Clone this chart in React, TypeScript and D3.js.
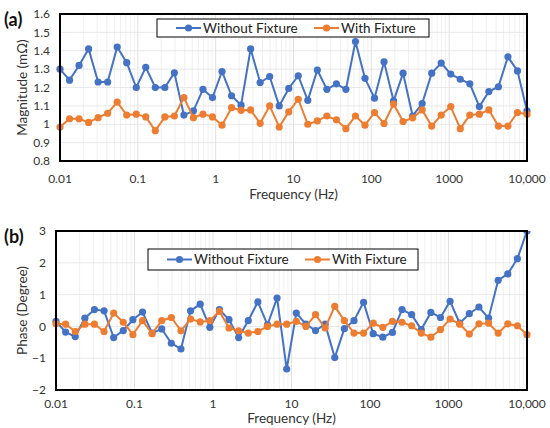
import * as d3 from 'd3';

// sweep frequencies (Hz), 50 points log spaced
const freqs = [
  0.01, 0.01326, 0.01758, 0.02331, 0.03089, 0.04095, 0.05429, 0.07197, 0.09541, 0.1265,
  0.1677, 0.2223, 0.2947, 0.3907, 0.5179, 0.6866, 0.9103, 1.207, 1.6, 2.121,
  2.812, 3.728, 4.942, 6.551, 8.685, 11.51, 15.26, 20.24, 26.83, 35.57,
  47.15, 62.51, 82.87, 109.8, 145.6, 193.1, 255.9, 339.3, 449.8, 596.4,
  790.6, 1048, 1389, 1842, 2442, 3237, 4292, 5690, 7543, 10000,
];

const magWithout = [
  1.30, 1.24, 1.32, 1.41, 1.23, 1.23, 1.42, 1.335, 1.20, 1.31,
  1.20, 1.20, 1.28, 1.05, 1.073, 1.19, 1.145, 1.287, 1.155, 1.104,
  1.41, 1.227, 1.26, 1.10, 1.195, 1.264, 1.13, 1.295, 1.19, 1.22,
  1.19, 1.45, 1.25, 1.142, 1.34, 1.127, 1.278, 1.045, 1.113, 1.278,
  1.333, 1.273, 1.245, 1.22, 1.096, 1.178, 1.204, 1.367, 1.29, 1.073,
];

const magWith = [
  0.985, 1.03, 1.03, 1.01, 1.036, 1.06, 1.12, 1.05, 1.055, 1.04,
  0.965, 1.04, 1.045, 1.145, 1.036, 1.055, 1.04, 0.995, 1.09, 1.076,
  1.078, 1.005, 1.10, 0.985, 1.067, 1.136, 1.0, 1.018, 1.045, 1.024,
  0.976, 1.045, 0.995, 1.064, 1.004, 1.11, 1.015, 1.035, 1.078, 0.99,
  1.05, 1.096, 0.976, 1.05, 1.055, 1.078, 0.99, 0.99, 1.064, 1.055,
];

const phaseWithout = [
  0.16, -0.18, -0.32, 0.26, 0.53, 0.49, -0.35, -0.13, 0.21, 0.45,
  -0.21, -0.08, -0.53, -0.71, 0.49, 0.7, -0.03, 0.53, 0.21, -0.35,
  0.18, 0.77, 0.05, 0.89, -1.34, 0.42, 0.07, -0.13, 0.07, -0.98,
  -0.07, 0.18, 0.76, -0.23, -0.34, -0.19, 0.53, 0.37, -0.1, 0.44,
  0.28, 0.79, 0.1, 0.4, 0.61, 0.26, 1.45, 1.65, 2.13, 3.0,
];

const phaseWith = [
  0.08, 0.07, -0.16, 0.07, 0.07, -0.16, 0.42, 0.13, -0.26, 0.18,
  -0.23, 0.18, 0.28, -0.14, 0.23, 0.14, 0.18, 0.47, -0.05, -0.14,
  -0.21, -0.16, 0, 0.07, 0.07, 0.16, 0, 0.37, -0.05, 0.63,
  0.18, -0.21, -0.21, 0.1, -0.03, 0.16, 0.13, 0.02, -0.21, -0.34,
  -0.1, 0.23, 0.07, -0.24, 0.08, 0.1, -0.21, 0.08, 0.02, -0.26,
];

const freqTicks = [0.01, 0.1, 1, 10, 100, 1000, 10000];
const freqTickLabels = ['0.01', '0.1', '1', '10', '100', '1000', '10,000'];
const magTicks = [0.8, 0.9, 1, 1.1, 1.2, 1.3, 1.4, 1.5, 1.6];
const phaseTicks = [-2, -1, 0, 1, 2, 3];

const seriesNames = ['Without Fixture', 'With Fixture'];
const BLUE = '#4472C4';
const ORANGE = '#ED7D31';
const FONT = 'Lato, "Open Sans", sans-serif';

type PanelProps = {
  id: string;
  tag: string;
  yTitle: string;
  left: number;
  right: number;
  top: number;
  bottom: number;
  yDomain: [number, number];
  yTicks: number[];
  a: number[];
  b: number[];
  legend: { x: number; y: number; w: number; h: number };
  xLabelY: number;
  xTitleY: number;
};

const Panel = (p: PanelProps) => {
  const x = d3.scaleLog().domain([0.01, 10000]).range([p.left, p.right]);
  const y = d3.scaleLinear().domain(p.yDomain).range([p.bottom, p.top]);

  const minor: number[] = [];
  for (let e = -2; e < 4; e++) {
    for (let k = 2; k <= 9; k++) minor.push(k * Math.pow(10, e));
  }

  const line = d3
    .line<number>()
    .x((_, i) => x(freqs[i]))
    .y((d) => y(d));

  const series = [
    { vals: p.a, color: BLUE },
    { vals: p.b, color: ORANGE },
  ];

  const lg = p.legend;
  const midY = lg.y + lg.h / 2;

  return (
    <g>
      <defs>
        <clipPath id={`clip-${p.id}`}>
          <rect x={p.left - 5} y={p.top} width={p.right - p.left + 10} height={p.bottom - p.top} />
        </clipPath>
      </defs>
      {minor.map((m) => (
        <line key={`m${m}`} x1={x(m)} x2={x(m)} y1={p.top} y2={p.bottom} stroke="#ececec" strokeWidth={0.8} />
      ))}
      {freqTicks.map((t) => (
        <line key={`M${t}`} x1={x(t)} x2={x(t)} y1={p.top} y2={p.bottom} stroke="#d9d9d9" strokeWidth={0.8} />
      ))}
      {p.yTicks.map((t) => (
        <line key={`h${t}`} x1={p.left} x2={p.right} y1={y(t)} y2={y(t)} stroke="#e3e3e3" strokeWidth={0.8} />
      ))}

      <g clipPath={`url(#clip-${p.id})`}>
        {series.map((s, si) => (
          <g key={si}>
            <path d={line(s.vals) || ''} fill="none" stroke={s.color} strokeWidth={2} />
            {s.vals.map((v, i) => (
              <circle key={i} cx={x(freqs[i])} cy={y(v)} r={3.6} fill={s.color} />
            ))}
          </g>
        ))}
      </g>

      <rect x={p.left} y={p.top} width={p.right - p.left} height={p.bottom - p.top} fill="none" stroke="#000" strokeWidth={2} />

      {p.yTicks.map((t) => (
        <text key={`yl${t}`} x={p.left - 10} y={y(t)} dy="0.35em" textAnchor="end" fontSize={12} fill="#333">
          {d3.format('~g')(t)}
        </text>
      ))}
      {freqTicks.map((t, i) => (
        <text key={`xl${t}`} x={x(t)} y={p.xLabelY} dy="0.35em" textAnchor="middle" fontSize={12} fill="#333">
          {freqTickLabels[i]}
        </text>
      ))}
      <text x={(p.left + p.right) / 2} y={p.xTitleY} dy="0.35em" textAnchor="middle" fontSize={13.5} fill="#333">
        Frequency (Hz)
      </text>
      <text
        transform={`translate(22,${(p.top + p.bottom) / 2}) rotate(-90)`}
        textAnchor="middle"
        dy="0.35em"
        fontSize={13.5}
        fill="#333"
      >
        {p.yTitle}
      </text>
      <text x={4} y={p.top + 6} dy="0.35em" fontSize={18} fontWeight="bold" fill="#111">
        {p.tag}
      </text>

      <rect x={lg.x} y={lg.y} width={lg.w} height={lg.h} fill="#fff" stroke="#000" strokeWidth={1} />
      {series.map((s, si) => {
        const ox = lg.x + (si === 0 ? 19 : 157);
        return (
          <g key={`lg${si}`}>
            <line x1={ox} x2={ox + 25} y1={midY} y2={midY} stroke={s.color} strokeWidth={2} />
            <circle cx={ox + 12.5} cy={midY} r={3.6} fill={s.color} />
            <text x={ox + 27} y={midY} dy="0.35em" fontSize={13.5} fill="#222">
              {seriesNames[si]}
            </text>
          </g>
        );
      })}
    </g>
  );
};

const App = () => {
  return (
    <svg
      width={550}
      height={428}
      style={{ position: 'absolute', left: 0, top: 0, background: '#fff' }}
      fontFamily={FONT}
    >
      <Panel
        id="a"
        tag="(a)"
        yTitle="Magnitude (mΩ)"
        left={60}
        right={527}
        top={14}
        bottom={161}
        yDomain={[0.8, 1.6]}
        yTicks={magTicks}
        a={magWithout}
        b={magWith}
        legend={{ x: 157, y: 19, w: 272, h: 18 }}
        xLabelY={179}
        xTitleY={194}
      />
      <Panel
        id="b"
        tag="(b)"
        yTitle="Phase (Degree)"
        left={56}
        right={527}
        top={231}
        bottom={390}
        yDomain={[-2, 3]}
        yTicks={phaseTicks}
        a={phaseWithout}
        b={phaseWith}
        legend={{ x: 148, y: 249, w: 270, h: 21 }}
        xLabelY={404}
        xTitleY={418}
      />
    </svg>
  );
};

export default App;
